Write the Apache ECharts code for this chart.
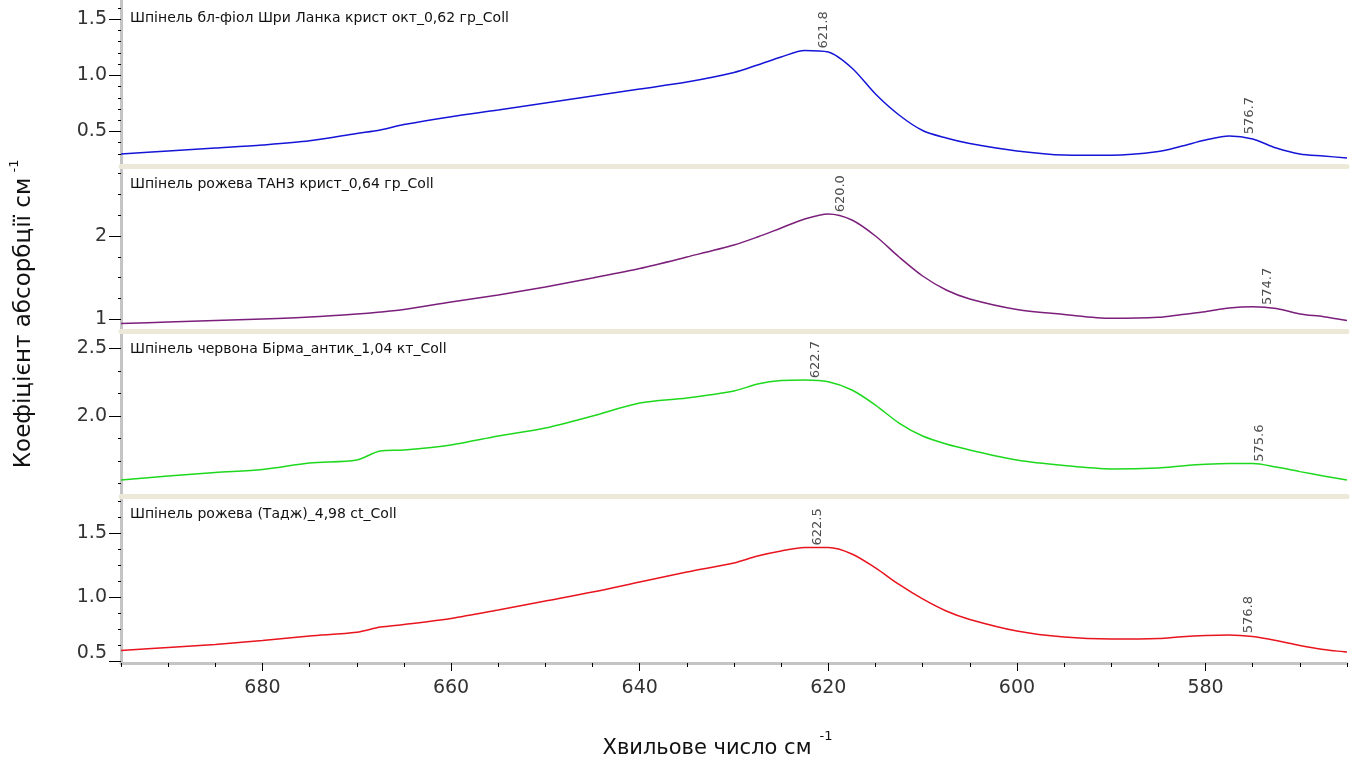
<!DOCTYPE html>
<html>
<head>
<meta charset="utf-8">
<script src="https://cdn.jsdelivr.net/npm/echarts@6/dist/echarts.min.js"></script>
<style>
html,body{margin:0;padding:0;background:#fff;}
#chart{width:1359px;height:769px;}
</style>
</head>
<body>
<div id="chart"></div>
<script>
// ---------- DATA ----------
const wavenumbers = [695,690,685,680,675,670,667.5,665,660,655,650,645,640,635,630,627.5,625,622.5,620,617.5,615,612.5,610,607.5,605,600,595,590,585,582.5,580,577.5,575,572.5,570,567.5,565];

const panelTitles = [
  'Шпінель бл-фіол Шри Ланка крист окт_0,62 гр_Coll',
  'Шпінель рожева ТАН3 крист_0,64 гр_Coll',
  'Шпінель червона Бірма_антик_1,04 кт_Coll',
  'Шпінель рожева (Тадж)_4,98 ct_Coll'
];

const spinelBlueViolet = [0.300,0.327,0.353,0.380,0.417,0.482,0.513,0.562,0.632,0.691,0.754,0.816,0.878,0.940,1.025,1.092,1.163,1.221,1.207,1.065,0.834,0.647,0.509,0.442,0.393,0.327,0.291,0.288,0.322,0.371,0.424,0.460,0.433,0.353,0.300,0.282,0.264];
const spinelPinkTAN3 = [0.950,0.968,0.986,1.004,1.028,1.064,1.088,1.118,1.208,1.292,1.388,1.496,1.610,1.748,1.892,1.988,2.096,2.204,2.264,2.192,2.000,1.748,1.520,1.352,1.244,1.118,1.058,1.012,1.024,1.058,1.092,1.136,1.152,1.130,1.064,1.032,0.986];
const spinelRedBurma = [1.527,1.557,1.583,1.605,1.653,1.675,1.742,1.749,1.786,1.852,1.911,2.000,2.096,2.133,2.185,2.236,2.262,2.266,2.253,2.192,2.081,1.948,1.852,1.793,1.749,1.675,1.634,1.609,1.616,1.631,1.643,1.649,1.649,1.623,1.589,1.557,1.527];
const spinelPinkTadj = [0.585,0.608,0.632,0.663,0.698,0.727,0.768,0.788,0.835,0.901,0.971,1.041,1.119,1.197,1.268,1.322,1.361,1.388,1.388,1.338,1.229,1.100,0.987,0.893,0.827,0.737,0.690,0.675,0.679,0.693,0.702,0.706,0.694,0.663,0.624,0.593,0.573];

const peaks1 = [[621.8,1.225],[576.7,0.462]];
const peaks2 = [[620.0,2.266],[574.7,1.154]];
const peaks3 = [[622.7,2.268],[575.6,1.651]];
const peaks4 = [[622.5,1.392],[576.8,0.708]];

const xTickLabels = [680,660,640,620,600,580];

const yMajor1 = [0.5,1.0,1.5];
const yMinor1 = [0.3,0.4,0.5,0.6,0.7,0.8,0.9,1.0,1.1,1.2,1.3,1.4,1.5,1.6];
const yMajor2 = [1,2];
const yMinor2 = [1,1.25,1.5,1.75,2,2.25,2.5,2.75];
const yMajor3 = [2.0,2.5];
const yMinor3 = [1.5,1.6667,1.8333,2.0,2.1667,2.3333,2.5];
const yMajor4 = [0.5,1.0,1.5];
const yMinor4 = [0.5,0.625,0.75,0.875,1.0,1.125,1.25,1.375,1.5,1.625,1.75];

// ---------- LAYOUT / STYLE ----------
const FONT = 'DejaVu Sans';
const LEFT = 121, RIGHT = 12;
const panels = [
  {top:0,   height:166, min:0.193, max:1.670, majors:yMajor1, minors:yMinor1, fmt:v=>v.toFixed(1), values:spinelBlueViolet, peaks:peaks1, color:'#1515d8'},
  {top:166, height:165, min:0.860, max:2.840, majors:yMajor2, minors:yMinor2, fmt:v=>String(Math.round(v)), values:spinelPinkTAN3, peaks:peaks2, color:'#7b1f7b'},
  {top:331, height:165, min:1.409, max:2.628, majors:yMajor3, minors:yMinor3, fmt:v=>v.toFixed(1), values:spinelRedBurma, peaks:peaks3, color:'#1ed81e'},
  {top:496, height:167, min:0.4875, max:1.790, majors:yMajor4, minors:yMinor4, fmt:v=>(v===0.5?'{lo|0.5}':v.toFixed(1)), values:spinelPinkTadj, peaks:peaks4, color:'#e8141e'}
];

const grid = panels.map(p => ({left:LEFT, right:RIGHT, top:p.top, height:p.height, containLabel:false}));

const xAxis = [];
for (let i = 0; i < 3; i++) {
  xAxis.push({gridIndex:i, type:'value', min:565, max:695, inverse:true, position:'bottom',
    axisLine:{show:true, onZero:false, lineStyle:{color:'#ECE9D8', width:5}},
    axisTick:{show:false}, axisLabel:{show:false}, splitLine:{show:false}});
}
xAxis.push({gridIndex:3, type:'value', min:565, max:695, interval:5, inverse:true, position:'bottom',
  axisLine:{show:true, onZero:false, lineStyle:{color:'#c4c4c4', width:3}},
  axisTick:{show:true, length:4, lineStyle:{color:'#000', width:1}},
  axisLabel:{customValues:xTickLabels, margin:16, color:'#333', fontSize:19, fontFamily:FONT},
  splitLine:{show:false}});
xAxis.push({gridIndex:3, type:'value', min:565, max:695, inverse:true, position:'bottom', offset:0,
  axisLine:{show:false, onZero:false},
  axisTick:{show:true, customValues:xTickLabels, length:8, lineStyle:{color:'#000', width:1}},
  axisLabel:{show:false}, splitLine:{show:false}});

const yAxis = [];
panels.forEach((p, i) => {
  yAxis.push({gridIndex:i, type:'value', min:p.min, max:p.max, position:'left', offset:0,
    axisLine:{show:true, onZero:false, lineStyle:{color:'#c4c4c4', width:3}},
    axisTick:{show:true, customValues:p.majors, length:12, lineStyle:{color:'#000', width:1}},
    axisLabel:{customValues:p.majors, formatter:p.fmt, margin:14, color:'#333', fontSize:19, fontFamily:FONT,
      rich:{lo:{fontSize:19, fontFamily:FONT, color:'#333', padding:[0,0,16,0]}}},
    splitLine:{show:false}});
  yAxis.push({gridIndex:i, type:'value', min:p.min, max:p.max, position:'left', offset:0,
    axisLine:{show:false, onZero:false},
    axisTick:{show:true, customValues:p.minors, length:3, lineStyle:{color:'#000', width:1}},
    axisLabel:{show:false}, splitLine:{show:false}});
});

const series = [];
panels.forEach((p, i) => {
  series.push({type:'line', xAxisIndex:i, yAxisIndex:2*i, symbol:'none', smooth:0.3,
    lineStyle:{color:p.color, width:1.5}, silent:true, z:3,
    data: wavenumbers.map((w, k) => [w, p.values[k]])});
  series.push({type:'scatter', xAxisIndex:i, yAxisIndex:2*i, symbolSize:1, silent:true, z:4,
    itemStyle:{color:'rgba(0,0,0,0)'},
    label:{show:true, formatter:d => d.value[0].toFixed(1), rotate:90, position:[13,-1],
      align:'left', verticalAlign:'middle', fontSize:13, fontFamily:FONT, color:'#222'},
    data:p.peaks});
});

const graphic = [];
panels.forEach((p, i) => {
  graphic.push({type:'text', x:130, y:p.top + 18, silent:true,
    style:{text:panelTitles[i], fontSize:14, fontFamily:FONT, fill:'#111', align:'left', verticalAlign:'middle'}});
});
graphic.push({type:'text', x:707, y:749, silent:true,
  style:{text:'Хвильове число см', fontSize:21, fontFamily:FONT, fill:'#111', align:'center', verticalAlign:'middle'}});
graphic.push({type:'text', x:826, y:737, silent:true,
  style:{text:'-1', fontSize:13, fontFamily:FONT, fill:'#111', align:'center', verticalAlign:'middle'}});
graphic.push({type:'text', x:24, y:323, rotation:Math.PI/2, silent:true,
  style:{text:'Коефіцієнт абсорбції см', fontSize:23, fontFamily:FONT, fill:'#111', align:'center', verticalAlign:'middle'}});
graphic.push({type:'text', x:15, y:166, rotation:Math.PI/2, silent:true,
  style:{text:'-1', fontSize:13, fontFamily:FONT, fill:'#111', align:'center', verticalAlign:'middle'}});

const chart = echarts.init(document.getElementById('chart'), null, {renderer:'canvas'});
chart.setOption({animation:false, backgroundColor:'#fff', grid, xAxis, yAxis, series, graphic});
</script>
</body>
</html>
